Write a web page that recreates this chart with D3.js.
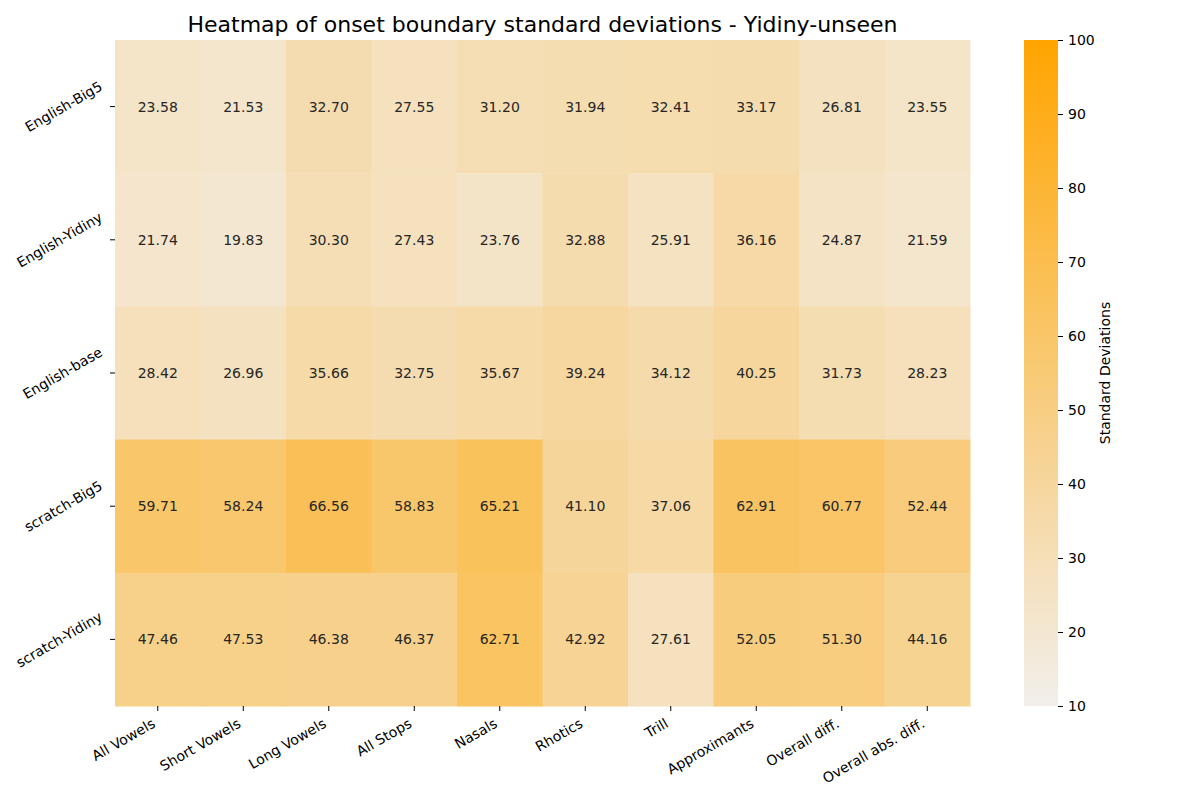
<!DOCTYPE html>
<html>
<head>
<meta charset="UTF-8">
<script src="https://d3js.org/d3.v7.min.js"></script>
<style>
  body { margin: 0; background: #fff; }
  svg { font-family: "DejaVu Sans", sans-serif; display: block; }
</style>
</head>
<body>
<div id="chart"></div>
<script>
// data
const rows = ["English-Big5", "English-Yidiny", "English-base", "scratch-Big5", "scratch-Yidiny"];
const cols = ["All Vowels", "Short Vowels", "Long Vowels", "All Stops", "Nasals",
              "Rhotics", "Trill", "Approximants", "Overall diff.", "Overall abs. diff."];
const englishBig5   = [23.58, 21.53, 32.70, 27.55, 31.20, 31.94, 32.41, 33.17, 26.81, 23.55];
const englishYidiny = [21.74, 19.83, 30.30, 27.43, 23.76, 32.88, 25.91, 36.16, 24.87, 21.59];
const englishBase   = [28.42, 26.96, 35.66, 32.75, 35.67, 39.24, 34.12, 40.25, 31.73, 28.23];
const scratchBig5   = [59.71, 58.24, 66.56, 58.83, 65.21, 41.10, 37.06, 62.91, 60.77, 52.44];
const scratchYidiny = [47.46, 47.53, 46.38, 46.37, 62.71, 42.92, 27.61, 52.05, 51.30, 44.16];
const values = [englishBig5, englishYidiny, englishBase, scratchBig5, scratchYidiny];
const cbarTicks = [10, 20, 30, 40, 50, 60, 70, 80, 90, 100];

const width = 1200, height = 800;
const mLeft = 115, mRight = 970, mTop = 40, mBottom = 706;
const fs = 14;

const svg = d3.select("#chart").append("svg")
    .attr("width", width).attr("height", height);

const x = d3.scaleBand().domain(cols).range([mLeft, mRight]);
const y = d3.scaleBand().domain(rows).range([mTop, mBottom]);
const color = d3.scaleLinear().domain([10, 100]).range(["#f2efeb", "#ffa500"]).clamp(true);

const cells = [];
values.forEach((vals, i) => vals.forEach((v, j) => cells.push({ row: rows[i], col: cols[j], v })));

svg.append("g").selectAll("rect")
    .data(cells).enter().append("rect")
    .attr("x", d => x(d.col))
    .attr("y", d => y(d.row))
    .attr("width", x.bandwidth() + 0.5)
    .attr("height", y.bandwidth() + 0.5)
    .attr("fill", d => color(d.v));

svg.append("g").selectAll("text")
    .data(cells).enter().append("text")
    .attr("x", d => x(d.col) + x.bandwidth() / 2)
    .attr("y", d => y(d.row) + y.bandwidth() / 2)
    .attr("text-anchor", "middle")
    .attr("dominant-baseline", "central")
    .attr("font-size", fs)
    .attr("fill", "#262626")
    .text(d => d.v.toFixed(2));

// place rotated label so its rotated bounding box lines up like matplotlib
function placeRotated(sel, mode) {
    sel.each(function (d) {
        const t = d3.select(this)
            .attr("x", 0).attr("y", 0).attr("dy", null)
            .attr("text-anchor", "end")
            .attr("dominant-baseline", "central")
            .attr("transform", "rotate(-30)");
        const b = this.getBoundingClientRect();
        let dx, dy;
        if (mode === "x") {
            const tx = x(d) + x.bandwidth() / 2;
            dx = tx - b.right;
            dy = (mBottom + 9) - b.top;
        } else {
            const ty = y(d) + y.bandwidth() / 2;
            dx = (mLeft - 10) - b.right;
            dy = ty - (b.top + b.bottom) / 2;
        }
        t.attr("transform", `translate(${dx},${dy}) rotate(-30)`);
    });
}

// x axis
const xAxis = svg.append("g")
    .attr("transform", `translate(0,${mBottom})`)
    .call(d3.axisBottom(x).tickSize(5).tickPadding(5));
xAxis.select(".domain").remove();
const xLabels = xAxis.selectAll("text")
    .attr("font-size", fs).attr("font-family", "DejaVu Sans").attr("fill", "#000");
xLabels.each(function () { this.parentNode.parentNode.appendChild(this); });
svg.append(() => xAxis.node());
placeRotated(xAxis.selectAll(":scope > text"), "x");

// y axis
const yAxis = svg.append("g")
    .attr("transform", `translate(${mLeft},0)`)
    .call(d3.axisLeft(y).tickSize(5).tickPadding(5));
yAxis.select(".domain").remove();
const yLabels = yAxis.selectAll("text")
    .attr("font-size", fs).attr("font-family", "DejaVu Sans").attr("fill", "#000");
yLabels.each(function () { this.parentNode.parentNode.appendChild(this); });
placeRotated(yAxis.selectAll(":scope > text"), "y");

// title
svg.append("text")
    .attr("x", (mLeft + mRight) / 2)
    .attr("y", 32)
    .attr("text-anchor", "middle")
    .attr("font-size", 22)
    .text("Heatmap of onset boundary standard deviations - Yidiny-unseen");

// colorbar
const cbX = 1024, cbW = 34;
const cbScale = d3.scaleLinear().domain([10, 100]).range([mBottom, mTop]);
const defs = svg.append("defs");
const grad = defs.append("linearGradient").attr("id", "cbgrad")
    .attr("x1", 0).attr("y1", 1).attr("x2", 0).attr("y2", 0);
grad.selectAll("stop").data(cbarTicks).enter().append("stop")
    .attr("offset", d => (d - 10) / 90)
    .attr("stop-color", d => color(d));
svg.append("rect")
    .attr("x", cbX).attr("y", mTop)
    .attr("width", cbW).attr("height", mBottom - mTop)
    .attr("fill", "url(#cbgrad)");
const cbAxis = svg.append("g")
    .attr("transform", `translate(${cbX + cbW},0)`)
    .call(d3.axisRight(cbScale).tickValues(cbarTicks).tickSize(5).tickPadding(5));
cbAxis.select(".domain").remove();
cbAxis.selectAll("text").attr("font-size", fs).attr("font-family", "DejaVu Sans").attr("fill", "#000");

svg.append("text")
    .attr("transform", `translate(1110,${(mTop + mBottom) / 2}) rotate(-90)`)
    .attr("text-anchor", "middle")
    .attr("font-size", fs)
    .text("Standard Deviations");
</script>
</body>
</html>
